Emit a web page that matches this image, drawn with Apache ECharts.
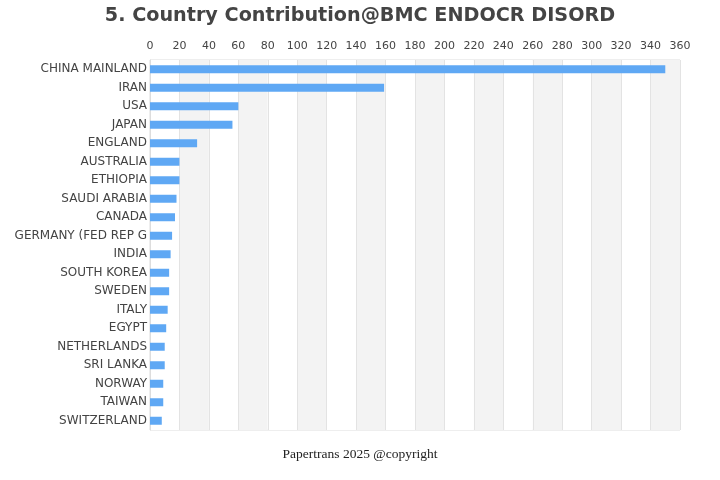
<!DOCTYPE html>
<html>
<head>
<meta charset="utf-8">
<script src="https://cdn.jsdelivr.net/npm/echarts@6/dist/echarts.min.js"></script>
<style>
  html, body { margin: 0; padding: 0; background: #fff; }
  #chart { width: 720px; height: 480px; }
</style>
</head>
<body>
<div id="chart"></div>
<script>
// country names and paper counts, top to bottom
var countries = ['CHINA MAINLAND', 'IRAN', 'USA', 'JAPAN', 'ENGLAND', 'AUSTRALIA', 'ETHIOPIA',
  'SAUDI ARABIA', 'CANADA', 'GERMANY (FED REP G', 'INDIA', 'SOUTH KOREA', 'SWEDEN', 'ITALY',
  'EGYPT', 'NETHERLANDS', 'SRI LANKA', 'NORWAY', 'TAIWAN', 'SWITZERLAND']
var counts = [350, 159, 60, 56, 32, 20, 20, 18, 17, 15, 14, 13, 13, 12, 11, 10, 10, 9, 9, 8]

var chart = echarts.init(document.getElementById('chart'))
chart.setOption({
  animation: false,
  title: [
    {
      text: '5. Country Contribution@BMC ENDOCR DISORD',
      left: 'center',
      top: 2,
      textStyle: { fontSize: 19.2, fontWeight: 'bold', color: '#444', fontFamily: 'DejaVu Sans' }
    },
    {
      text: 'Papertrans 2025 @copyright',
      left: 'center',
      top: 442,
      textStyle: { fontSize: 13.5, fontWeight: 'normal', color: '#222', fontFamily: 'Liberation Serif' }
    }
  ],
  grid: {
    left: 150,
    right: 40,
    top: 60,
    bottom: 50,
    show: true,
    borderColor: '#ddd',
    borderWidth: 1
  },
  xAxis: {
    type: 'value',
    position: 'top',
    min: 0,
    max: 360,
    interval: 20,
    axisLine: { show: false },
    axisTick: { show: false },
    axisLabel: { color: '#444', fontSize: 11, margin: 8, fontFamily: 'DejaVu Sans' },
    splitLine: { show: true, lineStyle: { color: '#e3e3e3' } },
    splitArea: { show: true, areaStyle: { color: ['#ffffff', '#f3f3f3'] } }
  },
  yAxis: {
    type: 'category',
    inverse: true,
    data: countries,
    axisLine: { show: true, lineStyle: { color: '#ddd' } },
    axisTick: { show: false },
    axisLabel: { color: '#444', fontSize: 12, margin: 3, fontFamily: 'DejaVu Sans' }
  },
  series: [
    {
      type: 'bar',
      data: counts,
      barWidth: 8,
      itemStyle: { color: '#5fa8f4' }
    }
  ]
})
</script>
</body>
</html>
